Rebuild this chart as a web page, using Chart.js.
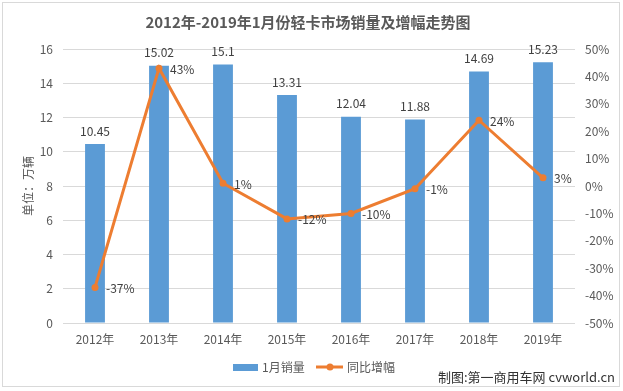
<!DOCTYPE html>
<html><head><meta charset="utf-8">
<script src="https://cdn.jsdelivr.net/npm/chart.js@4/dist/chart.umd.min.js"></script>
<style>html,body{margin:0;padding:0;background:#fff;}#wrap{position:absolute;left:0;top:0;width:623px;height:391px;}</style>
</head><body><div id="wrap"><canvas id="c" width="623" height="391"></canvas></div>
<script>
const categories = ['2012年','2013年','2014年','2015年','2016年','2017年','2018年','2019年'];
const sales = [10.45, 15.02, 15.1, 13.31, 12.04, 11.88, 14.69, 15.23];
const growth = [-0.37, 0.43, 0.01, -0.12, -0.10, -0.01, 0.24, 0.03];
const leftTicks = [0,2,4,6,8,10,12,14,16];
const rightTicks = [-0.5,-0.4,-0.3,-0.2,-0.1,0,0.1,0.2,0.3,0.4,0.5];
const titleText = '2012年-2019年1月份轻卡市场销量及增幅走势图';
const seriesNames = ['1月销量','同比增幅'];
const yAxisTitle = '单位：万辆';
const watermark = '制图:第一商用车网 cvworld.cn';

const FONT = '"Noto Sans CJK SC", "DejaVu Sans", sans-serif';
const BLUE = '#5b9bd5', ORANGE = '#ed7d31', GRAY = '#595959';

const decor = {
  id: 'decor',
  beforeDraw(chart) {
    const ctx = chart.ctx;
    ctx.save();
    ctx.strokeStyle = '#d9d9d9'; ctx.lineWidth = 1;
    ctx.strokeRect(2.5, 2.5, 617, 384);
    ctx.fillStyle = GRAY;
    ctx.font = 'bold 15px ' + FONT;
    ctx.textAlign = 'center'; ctx.textBaseline = 'middle';
    ctx.fillText(titleText, 308, 22);
    ctx.restore();
  },
  afterDatasetsDraw(chart) {
    const ctx = chart.ctx;
    ctx.save();
    ctx.font = '12px ' + FONT;
    ctx.fillStyle = '#404040';
    const bars = chart.getDatasetMeta(1).data;
    ctx.textAlign = 'center'; ctx.textBaseline = 'middle';
    bars.forEach((b, i) => ctx.fillText(String(sales[i]), b.x, b.y - 13));
    const pts = chart.getDatasetMeta(0).data;
    ctx.textAlign = 'left';
    pts.forEach((p, i) => ctx.fillText(Math.round(growth[i] * 100) + '%', p.x + 11, p.y + 1));
    // legend
    ctx.fillStyle = BLUE; ctx.fillRect(233, 364, 25, 7);
    ctx.fillStyle = GRAY; ctx.font = '12px ' + FONT;
    ctx.fillText(seriesNames[0], 262, 367);
    ctx.strokeStyle = ORANGE; ctx.lineWidth = 3;
    ctx.beginPath(); ctx.moveTo(316, 367); ctx.lineTo(343, 367); ctx.stroke();
    ctx.fillStyle = ORANGE; ctx.beginPath(); ctx.arc(330, 367, 3.5, 0, Math.PI * 2); ctx.fill();
    ctx.fillStyle = GRAY; ctx.fillText(seriesNames[1], 347, 367);
    // watermark
    ctx.fillStyle = '#333'; ctx.font = '13px ' + FONT; ctx.textAlign = 'right';
    ctx.fillText(watermark, 615, 377);
    ctx.restore();
  }
};

new Chart(document.getElementById('c'), {
  data: {
    labels: categories,
    datasets: [
      { type: 'line', label: seriesNames[1], data: growth, yAxisID: 'y1', borderColor: ORANGE, backgroundColor: ORANGE,
        borderWidth: 3, pointRadius: 3.5, pointBackgroundColor: ORANGE, pointBorderWidth: 0, tension: 0, order: 0 },
      { type: 'bar', label: seriesNames[0], data: sales, yAxisID: 'y', backgroundColor: BLUE,
        categoryPercentage: 1, barPercentage: 0.31, order: 1 }
    ]
  },
  options: {
    responsive: false, animation: false, devicePixelRatio: 1,
    layout: { padding: { top: 49, bottom: 38, left: 0, right: 0 } },
    plugins: { legend: { display: false }, title: { display: false }, tooltip: { enabled: false } },
    scales: {
      x: { grid: { display: false, drawTicks: false }, border: { display: false },
           ticks: { color: GRAY, font: { size: 12, family: FONT }, padding: 9 },
           afterFit(s) { s.height = 30; } },
      y: { position: 'left', min: 0, max: 16,
           grid: { color: '#d9d9d9', drawTicks: false }, border: { display: false },
           afterBuildTicks(s) { s.ticks = leftTicks.map(v => ({ value: v })); },
           ticks: { color: GRAY, font: { size: 12, family: FONT }, padding: 10 },
           title: { display: true, text: yAxisTitle, color: GRAY, font: { size: 12, family: FONT }, padding: { top: 21 } },
           afterFit(s) { s.width = 63; } },
      y1: { position: 'right', min: -0.5, max: 0.5,
            grid: { display: false, drawTicks: false }, border: { display: false },
            afterBuildTicks(s) { s.ticks = rightTicks.map(v => ({ value: v })); },
            ticks: { color: GRAY, font: { size: 12, family: FONT }, padding: 10,
                     callback: v => Math.round(v * 100) + '%' },
            afterFit(s) { s.width = 48; } }
    }
  },
  plugins: [decor]
});
</script></body></html>
